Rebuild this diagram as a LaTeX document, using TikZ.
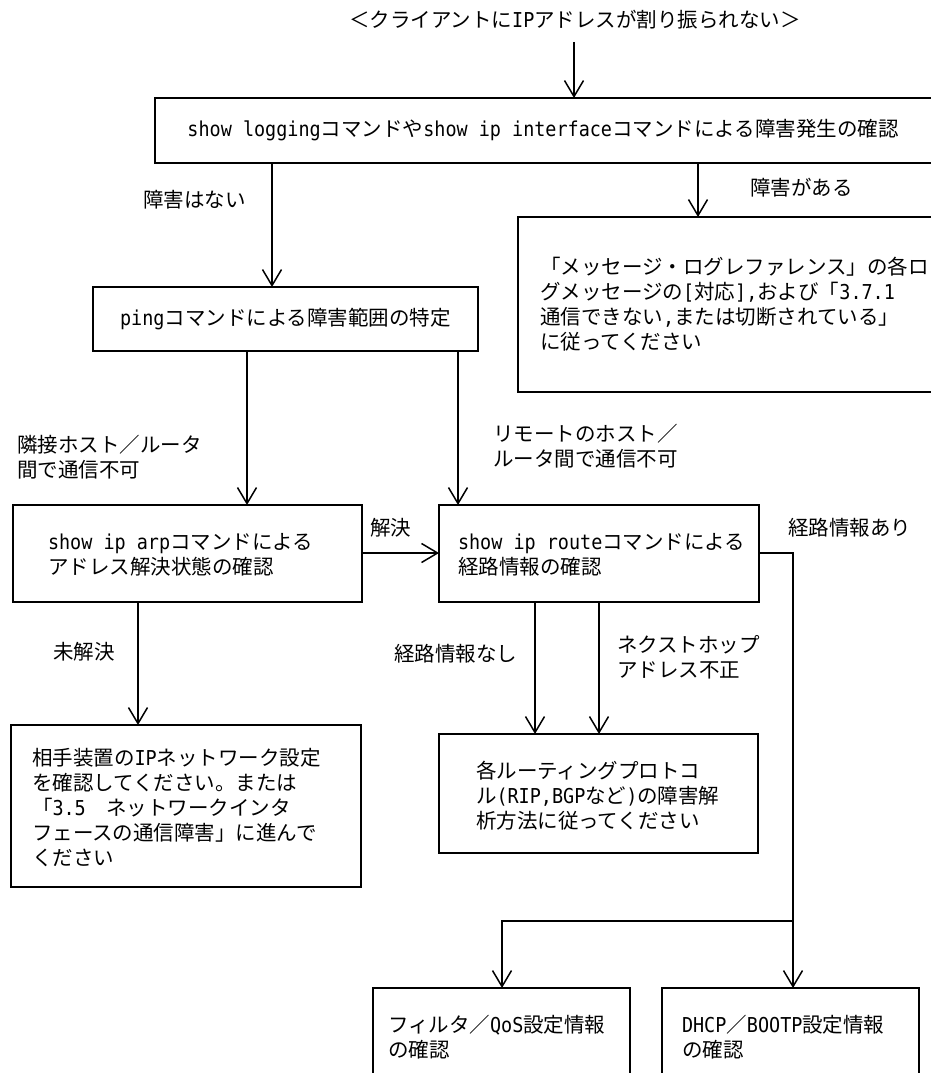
\documentclass[tikz,border=0pt]{standalone}
\usepackage{fontspec}
\setmainfont{Noto Sans CJK JP}
\newfontfamily\lat[FakeStretch=0.9]{DejaVu Sans Mono}
\usetikzlibrary{arrows.meta}
\newcommand\jpsize{\fontsize{20.5pt}{25pt}\selectfont}
\tikzset{
  box/.style={draw, line width=1.6pt, inner sep=0pt, outer sep=0pt},
  txt/.style={inner sep=0pt, outer sep=0pt, anchor=west, align=left, font=\jpsize},
  arr/.style={line width=1.5pt, -{Straight Barb[length=16pt,width=19pt]}}
}
\begin{document}
\begin{tikzpicture}[x=1pt,y=-1pt]
\useasboundingbox (0,0) rectangle (931,1073);
\clip (0,0) rectangle (931,1073);
% boxes
\node[box, minimum width=805pt, minimum height=65pt] (top) at (557.5,130.5) {};
\node[box, minimum width=442pt, minimum height=175pt] (msg) at (739,304.5) {};
\node[box, minimum width=385pt, minimum height=64pt] (ping) at (285.5,319) {};
\node[box, minimum width=349pt, minimum height=97pt] (arp) at (187.5,553.5) {};
\node[box, minimum width=320pt, minimum height=97pt] (route) at (599,553.5) {};
\node[box, minimum width=350pt, minimum height=162pt] (bl) at (186,806) {};
\node[box, minimum width=319pt, minimum height=119pt] (proto) at (598.5,793.5) {};
\node[box, minimum width=257pt, minimum height=112pt] (filt) at (501.5,1044) {};
\node[box, minimum width=257pt, minimum height=112pt] (dhcp) at (790.5,1044) {};
% texts
\node[txt, anchor=center] (title) at (575,20) {＜クライアントに{\lat IP}アドレスが割り振られない＞};
\node[txt, anchor=center] (topt) at (543,130) {{\lat show logging}コマンドや{\lat show ip interface}コマンドによる障害発生の確認};
\node[txt] (l1) at (143,200) {障害はない};
\node[txt] (l2) at (750,188) {障害がある};
\node[txt] (msgt) at (540,304.5) {「メッセージ・ログレファレンス」の各ロ\\グメッセージの{\lat [}対応{\lat ],}および「{\lat 3.7.1}\\通信できない{\lat ,}または切断されている」\\に従ってください};
\node[txt, anchor=center] (pingt) at (285.5,319) {{\lat ping}コマンドによる障害範囲の特定};
\node[txt] (l3) at (17,457.5) {隣接ホスト／ルータ\\間で通信不可};
\node[txt] (l4) at (493,446.5) {リモートのホスト／\\ルータ間で通信不可};
\node[txt] (arpt) at (48,554.5) {{\lat show ip arp}コマンドによる\\アドレス解決状態の確認};
\node[txt] (l5) at (370,528) {解決};
\node[txt] (routet) at (458,554.5) {{\lat show ip route}コマンドによる\\経路情報の確認};
\node[txt] (l6) at (788,528) {経路情報あり};
\node[txt] (l7) at (53,652) {未解決};
\node[txt] (blt) at (32,808) {相手装置の{\lat IP}ネットワーク設定\\を確認してください。または\\「{\lat 3.5}　ネットワークインタ\\フェースの通信障害」に進んで\\ください};
\node[txt] (l8) at (394,654) {経路情報なし};
\node[txt] (l9) at (617,657) {ネクストホップ\\アドレス不正};
\node[txt] (protot) at (476,796) {各ルーティングプロトコ\\ル{\lat (RIP,BGP}など{\lat )}の障害解\\析方法に従ってください};
\node[txt] (filtt) at (388,1037) {フィルタ／{\lat QoS}設定情報\\の確認};
\node[txt] (dhcpt) at (682,1037) {{\lat DHCP}／{\lat BOOTP}設定情報\\の確認};
% helper coordinates
\coordinate (t0) at (574,42);
\coordinate (xL) at (272,0);
\coordinate (xR) at (698,0);
\coordinate (xP1) at (247,0);
\coordinate (xP2) at (458,0);
\coordinate (xA) at (138,0);
\coordinate (xR1) at (535,0);
\coordinate (xR2) at (599,0);
\coordinate (xB) at (793,0);
\coordinate (xF) at (502,0);
\coordinate (yS) at (0,553);
\coordinate (yBr) at (0,921);
% connectors
\draw[arr] (t0) -- (t0 |- top.north);
\draw[arr] (top.south -| xL) -- (ping.north -| xL);
\draw[arr] (top.south -| xR) -- (msg.north -| xR);
\draw[arr] (ping.south -| xP1) -- (arp.north -| xP1);
\draw[arr] (ping.south -| xP2) -- (route.north -| xP2);
\draw[arr] (arp.east |- yS) -- (route.west |- yS);
\draw[arr] (arp.south -| xA) -- (bl.north -| xA);
\draw[arr] (route.south -| xR1) -- (proto.north -| xR1);
\draw[arr] (route.south -| xR2) -- (proto.north -| xR2);
\draw[arr] (route.east |- yS) -| (dhcp.north -| xB);
\draw[arr] (xB |- yBr) -| (filt.north -| xF);
\end{tikzpicture}
\end{document}
